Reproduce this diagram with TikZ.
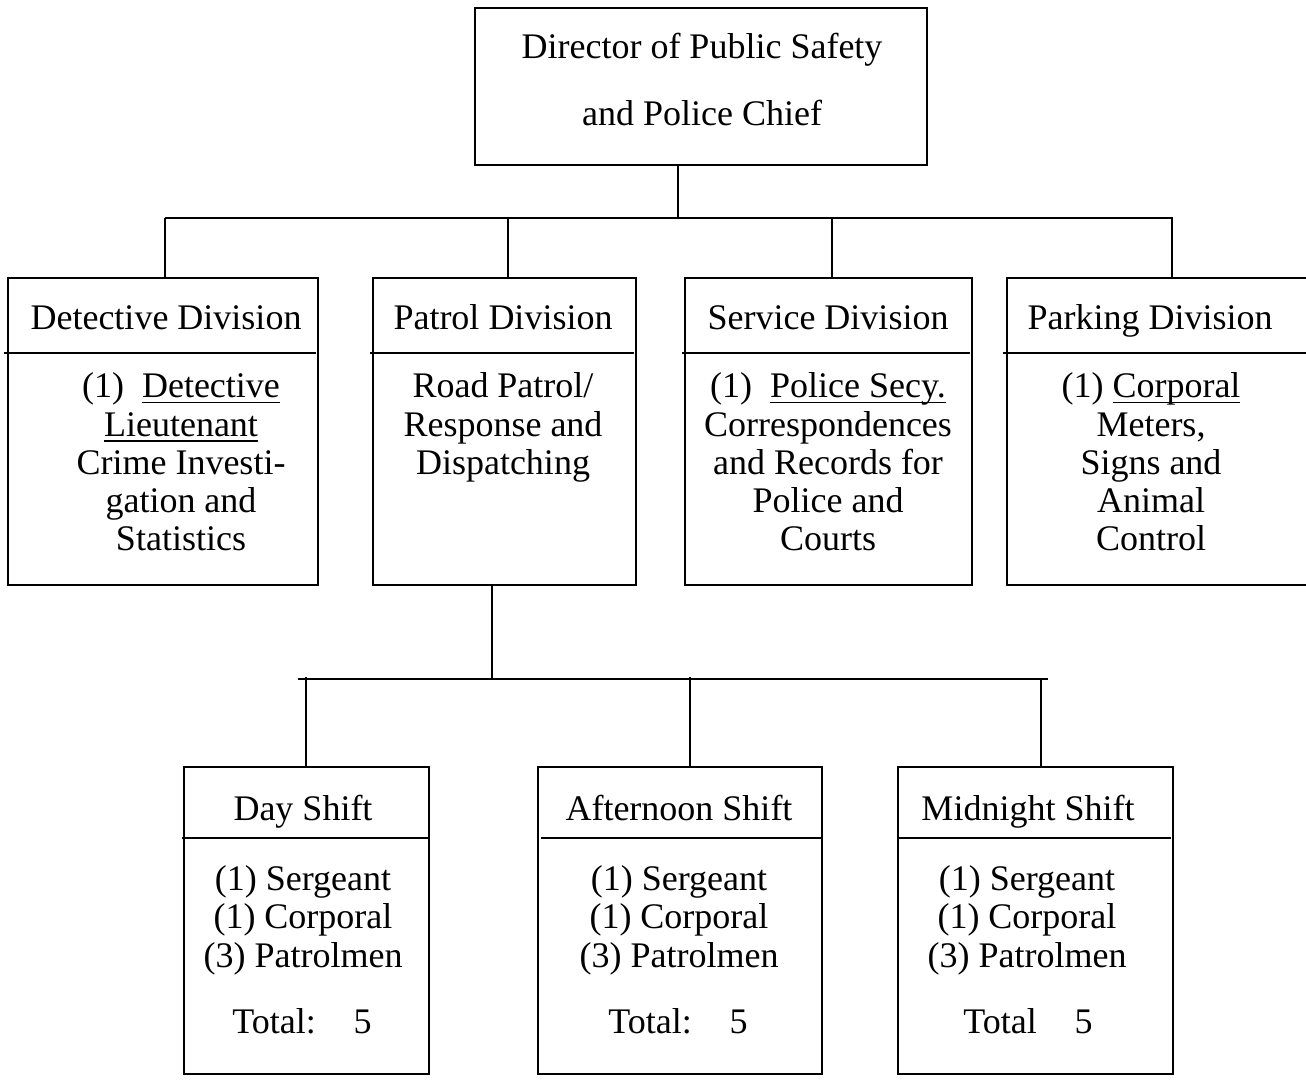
\documentclass[tikz,border=0pt]{standalone}
\usepackage{fontspec}
\setmainfont{Liberation Serif}
\newsavebox\myulbox
\newcommand{\myul}[1]{\sbox\myulbox{#1}\rlap{\rule[-5.5pt]{\wd\myulbox}{1.5pt}}\usebox\myulbox}
\begin{document}
\begin{tikzpicture}[x=1pt,y=-1pt,line width=1.5pt,
  box/.style={draw,inner sep=0,outer sep=0,anchor=north west},
  lbl/.style={inner sep=0,anchor=base,font=\fontsize{36}{38.3}\selectfont},
  body/.style={inner sep=0,anchor=north,align=center,font=\fontsize{36}{38.3}\selectfont},
  conn/.style={draw,line width=1.5pt}]
\useasboundingbox (0,0) rectangle (1306,1079);
% boxes
\node[box,minimum width=452,minimum height=157] (top) at (475,8) {};
\node[box,minimum width=310,minimum height=307] (det) at (8,278) {};
\node[box,minimum width=263,minimum height=307] (pat) at (373,278) {};
\node[box,minimum width=287,minimum height=307] (ser) at (685,278) {};
\node[box,minimum width=310,minimum height=307] (par) at (1007,278) {};
\node[box,minimum width=245,minimum height=307] (day) at (184,767) {};
\node[box,minimum width=284,minimum height=307] (aft) at (538,767) {};
\node[box,minimum width=275,minimum height=307] (mid) at (898,767) {};
% dividers
\draw ([shift={(-4,75)}]det.north west) -- ([shift={(-2,75)}]det.north east);
\draw ([shift={(-3,75)}]pat.north west) -- ([shift={(-2,75)}]pat.north east);
\draw ([shift={(-3,75)}]ser.north west) -- ([shift={(-2,75)}]ser.north east);
\draw ([shift={(-4,75)}]par.north west) -- ([shift={(0,75)}]par.north east);
\draw ([shift={(-2,71)}]day.north west) -- ([shift={(0,71)}]day.north east);
\draw ([shift={(3,71)}]aft.north west) -- ([shift={(0,71)}]aft.north east);
\draw ([shift={(0,71)}]mid.north west) -- ([shift={(-2,71)}]mid.north east);
% upper connectors
\coordinate (j0) at (678,218);
\coordinate (bL) at (165,218);
\coordinate (bR) at (1173,218);
\coordinate (jp) at (508,218);
\coordinate (js) at (832,218);
\coordinate (jk) at (1172,218);
\draw[conn] (top.south -| j0) -- (j0);
\draw[conn] (bL) -- (bR);
\draw[conn] (bL) -- (bL |- det.north);
\draw[conn] (jp) -- (jp |- pat.north);
\draw[conn] (js) -- (js |- ser.north);
\draw[conn] (jk) -- (jk |- par.north);
% lower connectors
\coordinate (lj) at (492,679);
\coordinate (lL) at (298,679);
\coordinate (lR) at (1048,679);
\coordinate (ld) at (306,677);
\coordinate (la) at (690,677);
\coordinate (lm) at (1041,679);
\draw[conn] (pat.south -| lj) -- (lj);
\draw[conn] (lL) -- (lR);
\draw[conn] (ld) -- (ld |- day.north);
\draw[conn] (la) -- (la |- aft.north);
\draw[conn] (lm) -- (lm |- mid.north);
% texts
\node[lbl] (t1) at (702,58) {Director of Public Safety};
\node[lbl] (t2) at (702,125) {and Police Chief};
\node[lbl] (hdet) at (166,329) {Detective Division};
\node[lbl] (hpat) at (503,329) {Patrol Division};
\node[lbl] (hser) at (828,329) {Service Division};
\node[lbl] (hpar) at (1150,329) {Parking Division};
\node[body] (bdet) at (181,370.2) {\strut(1)\ \ \myul{Detective}\\\myul{Lieutenant}\\Crime Investi-\\gation and\\Statistics};
\node[body] (bpat) at (503,370.2) {\strut Road Patrol/\\Response and\\Dispatching};
\node[body] (bser) at (828,370.2) {\strut(1)\ \ \myul{Police Secy.}\\Correspondences\\and Records for\\Police and\\Courts};
\node[body] (bpar) at (1151,370.2) {\strut(1) \myul{Corporal}\\Meters,\\Signs and\\Animal\\Control};
\node[lbl] (hday) at (303,820) {Day Shift};
\node[lbl] (haft) at (679,820) {Afternoon Shift};
\node[lbl] (hmid) at (1028,820) {Midnight Shift};
\node[body] (bday) at (303,863) {\strut(1) Sergeant\\(1) Corporal\\(3) Patrolmen};
\node[body] (baft) at (679,863) {\strut(1) Sergeant\\(1) Corporal\\(3) Patrolmen};
\node[body] (bmid) at (1027,863) {\strut(1) Sergeant\\(1) Corporal\\(3) Patrolmen};
\node[lbl] (tday) at (302,1033) {Total:\hspace{38pt}5};
\node[lbl] (taft) at (678,1033) {Total:\hspace{38pt}5};
\node[lbl] (tmid) at (1028,1033) {Total\hspace{38pt}5};
\end{tikzpicture}
\end{document}
